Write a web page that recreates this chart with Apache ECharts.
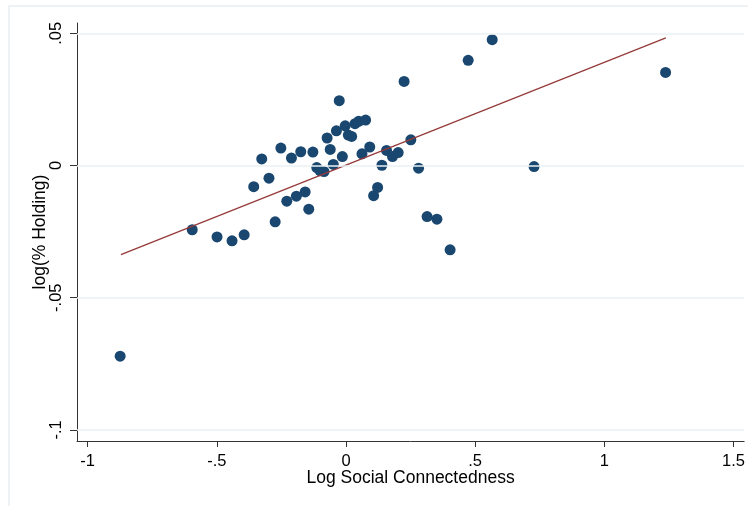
<!DOCTYPE html>
<html><head><meta charset="utf-8">
<script src="https://cdn.jsdelivr.net/npm/echarts@6/dist/echarts.min.js"></script>
<style>html,body{margin:0;padding:0;background:#fff}#c{width:748px;height:506px}</style>
</head><body><div id="c"></div>
<script>
var xValues = [-0.874,-0.595,-0.499,-0.441,-0.394,-0.357,-0.326,-0.298,-0.274,-0.252,-0.229,-0.211,-0.192,-0.175,-0.158,-0.144,-0.128,-0.113,-0.100,-0.085,-0.073,-0.061,-0.049,-0.037,-0.026,-0.014,-0.003,0.009,0.022,0.035,0.049,0.062,0.076,0.092,0.107,0.1225,0.139,0.157,0.180,0.202,0.225,0.251,0.281,0.314,0.352,0.403,0.473,0.566,0.728,1.237];
var yValues = [-0.0721,-0.0243,-0.0270,-0.0285,-0.0262,-0.0080,0.0025,-0.0048,-0.0213,0.0066,-0.0135,0.0028,-0.0116,0.0052,-0.0100,-0.0165,0.0051,-0.0008,-0.0020,-0.0023,0.0104,0.0061,0.0004,0.0131,0.0245,0.0034,0.0150,0.0115,0.0110,0.0158,0.0167,0.0044,0.0172,0.0070,-0.0114,-0.0083,0.0001,0.0057,0.0034,0.0049,0.0318,0.0097,-0.0010,-0.0193,-0.0203,-0.0319,0.0398,0.0476,-0.0004,0.0352];
var fitX = [-0.871, 1.238];
var fitY = [-0.0337, 0.0483];
var xTickValues = [-1, -0.5, 0, 0.5, 1, 1.5];
var xTickLabels = ['-1', '-.5', '0', '.5', '1', '1.5'];
var yTickValues = [-0.1, -0.05, 0, 0.05];
var yTickLabels = ['-.1', '-.05', '0', '.05'];
var xTitle = 'Log Social Connectedness';
var yTitle = 'log(% Holding)';

function lab(vals, labs){ return function(v){ for (var i=0;i<vals.length;i++){ if (Math.abs(vals[i]-v)<1e-9) return labs[i]; } return ''; }; }
var pts = xValues.map(function(x,i){ return [x, yValues[i]]; });
var chart = echarts.init(document.getElementById('c'), null, {renderer:'canvas'});
var font = 'Liberation Sans, Arial, Helvetica, sans-serif';
chart.setOption({
  animation:false,
  backgroundColor:'#ffffff',
  graphic:[{type:'rect', shape:{x:9,y:6,width:760,height:520}, style:{fill:'none', stroke:'#eef2f5', lineWidth:2}, z:-1}],
  grid:{left:77, top:23, right:3, bottom:65, containLabel:false},
  xAxis:{type:'value', min:-1.041, max:1.541,
    axisLine:{show:true, onZero:false, lineStyle:{color:'#333', width:1}},
    axisTick:{show:true, customValues:xTickValues, length:6, lineStyle:{color:'#333'}},
    axisLabel:{show:true, customValues:xTickValues, formatter:lab(xTickValues,xTickLabels), color:'#000', fontSize:16.5, fontFamily:font, margin:12},
    splitLine:{show:false},
    name:xTitle, nameLocation:'middle', nameGap:28, nameMoveOverlap:false, nameTextStyle:{color:'#000', fontSize:17.5, fontFamily:font}
  },
  yAxis:{type:'value', min:-0.1042, max:0.0539,
    axisLine:{show:true, onZero:false, lineStyle:{color:'#333', width:1}},
    axisTick:{show:true, customValues:yTickValues, length:7, lineStyle:{color:'#333'}},
    axisLabel:{show:true, customValues:yTickValues, formatter:lab(yTickValues,yTickLabels), rotate:90, color:'#000', fontSize:16.5, fontFamily:font, margin:12},
    splitLine:{show:false},
    name:yTitle, nameLocation:'middle', nameGap:28, nameMoveOverlap:false, nameTextStyle:{color:'#000', fontSize:17.5, fontFamily:font}
  },
  series:[
    {type:'line', data:[], silent:true,
      markLine:{silent:true, symbol:'none', label:{show:false}, lineStyle:{color:'#eaf1f4', width:1.5, type:'solid'},
        data: yTickValues.map(function(v){ return {yAxis:v}; })}, z:0},
    {type:'scatter', data:pts, symbol:'circle', symbolSize:11, itemStyle:{color:'#1a476f', opacity:1}, z:2},
    {type:'line', data:fitX.map(function(x,i){return [x,fitY[i]];}), symbol:'none', lineStyle:{color:'#963a3a', width:1.3}, z:3}
  ]
});
</script></body></html>
